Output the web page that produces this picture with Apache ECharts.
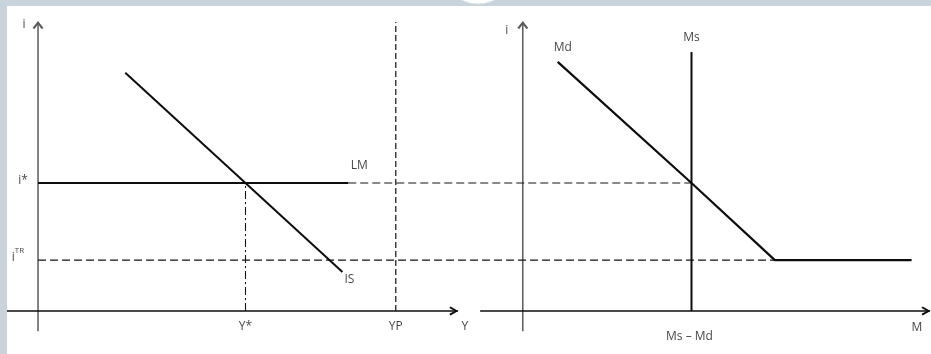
<!DOCTYPE html>
<html>
<head>
<meta charset="utf-8">
<script src="https://cdn.jsdelivr.net/npm/echarts@6/dist/echarts.min.js"></script>
<style>html,body{margin:0;padding:0;background:#fff}#c{width:931px;height:354px}</style>
</head>
<body>
<div id="c"></div>
<script>
// ---- data (abstract diagram units) ----
const xRange = [-3.2, 92];          // whole figure horizontal span
const yRange = [-7, 100];           // interest-rate axis span (axis lines run below 0)
const leftOrigin = 0;               // IS-LM panel origin (Y axis)
const rightOrigin = 50;             // money market panel origin (M axis)
const leftXAxisEnd = 43.3;
const rightXAxisStart = 45.6;
const iStar = 44.3;
const iTR = 17.6;
const yStar = 21.4;
const yP = 36.9;
const msLevel = 67.4;
const isCurve = [[9.0, 82.4], [31.4, 13.5]];
const lmCurve = [[0, 44.3], [32.0, 44.3]];
const mdCurve = [[53.6, 86.2], [67.4, 44.3], [76.0, 17.6], [90.1, 17.6]];
const msTop = 89.6;
const labelNames = ['i', 'i', 'i*', 'iTR', 'LM', 'IS', 'Y*', 'YP', 'Y', 'Md', 'Ms', 'Ms – Md', 'M'];

const chart = echarts.init(document.getElementById('c'), null, {renderer: 'canvas'});
const INK = '#0d0d0d', AXG = '#5a5a5a', TXT = '#111111';
const chevronUp = 'path://M0,8.4 L5,0 L10,8.4 L8.2,9.6 L5,3.8 L1.8,9.6 Z';
const chevronRight = 'path://M0,0 L8.4,5 L0,10 L-1.2,8.2 L4.6,5 L-1.2,1.8 Z';

function seg(name, pts, color, width, type) {
  return {
    name, type: 'line', data: pts, clip: false, silent: true,
    symbol: 'none', showSymbol: false,
    lineStyle: {color, width, type},
    animation: false, z: 3
  };
}

function arrows(name, pts, path, color, size, offset) {
  return {
    name, type: 'scatter', data: pts, clip: false, silent: true,
    symbol: path, symbolSize: size, symbolOffset: offset,
    itemStyle: {color, opacity: 1}, z: 4, animation: false
  };
}

// label anchors derived from the data
const anchors = [
  [leftOrigin, yRange[1]], [rightOrigin, yRange[1]],
  [leftOrigin, iStar], [leftOrigin, iTR],
  lmCurve[1], isCurve[1],
  [yStar, 0], [yP, 0], [leftXAxisEnd, 0],
  mdCurve[0], [msLevel, msTop], [msLevel, 0], [xRange[1], 0]
];
const offsets = [[-14, 3], [-16, 9], [-15, -2], [-20, -5], [11, -17], [7, 8], [0, 16], [0, 16], [7, 16], [5, -14], [0, -14], [-2, 26], [-13, 17]];

const labelData = anchors.map((a, k) => ({
  value: a, name: labelNames[k],
  label: {offset: offsets[k]}
}));

const option = {
  backgroundColor: '#ffffff',
  animation: false,
  grid: {left: 7, right: 1, top: 22, bottom: 22.8},
  xAxis: {type: 'value', min: xRange[0], max: xRange[1], show: false},
  yAxis: {type: 'value', min: yRange[0], max: yRange[1], show: false},
  graphic: [
    {type: 'rect', shape: {x: 0, y: 0, width: 931, height: 6}, style: {fill: '#c8d3db'}, z: 10},
    {type: 'rect', shape: {x: 0, y: 0, width: 7, height: 354}, style: {fill: '#c8d3db'}, z: 10},
    {type: 'circle', shape: {cx: 478, cy: -32, r: 36}, style: {fill: '#ffffff', stroke: '#dde3e8', lineWidth: 1}, z: 11}
  ],
  series: [
    seg('yAxisL', [[leftOrigin, yRange[0]], [leftOrigin, yRange[1]]], AXG, 1.5, 'solid'),
    seg('yAxisR', [[rightOrigin, yRange[0]], [rightOrigin, yRange[1]]], AXG, 1.5, 'solid'),
    seg('xAxisL', [[xRange[0], 0], [leftXAxisEnd, 0]], INK, 1.4, 'solid'),
    seg('xAxisR', [[rightXAxisStart, 0], [xRange[1], 0]], INK, 1.4, 'solid'),
    arrows('yArrows', [[leftOrigin, yRange[1]], [rightOrigin, yRange[1]]], chevronUp, AXG, [11, 8], [0, 3]),
    arrows('xArrows', [[leftXAxisEnd, 0], [xRange[1], 0]], chevronRight, INK, [9, 9], [-4, 0]),
    seg('iStarDash', [[lmCurve[1][0], iStar], [msLevel, iStar]], '#151515', 1.1, [8, 4]),
    seg('iTRDash', [[leftOrigin, iTR], [mdCurve[2][0], iTR]], '#151515', 1.1, [8, 4]),
    seg('YP', [[yP, 0], [yP, yRange[1]]], '#111111', 1.2, [6, 3]),
    seg('Ystar', [[yStar, 0], [yStar, iStar]], '#151515', 1.1, [8, 3, 2, 3]),
    seg('LM', lmCurve, INK, 2, 'solid'),
    seg('IS', isCurve, INK, 2, 'solid'),
    seg('Ms', [[msLevel, 0], [msLevel, msTop]], INK, 2, 'solid'),
    seg('Md', mdCurve, INK, 2.2, 'solid'),
    {
      name: 'labels', type: 'scatter', data: labelData, symbolSize: 0, silent: true, clip: false, z: 5,
      label: {
        show: true, position: 'inside', color: TXT,
        fontFamily: 'Open Sans', fontSize: 12,
        formatter: p => p.name === 'iTR' ? '{b|i}{s|TR}' : p.name,
        rich: {
          b: {fontFamily: 'Open Sans', fontSize: 12, color: TXT, lineHeight: 16, verticalAlign: 'bottom'},
          s: {fontFamily: 'Open Sans', fontSize: 8, color: TXT, lineHeight: 16, verticalAlign: 'top', padding: [0, 0, 6, 0]}
        }
      }
    }
  ]
};
chart.setOption(option);
</script>
</body>
</html>
